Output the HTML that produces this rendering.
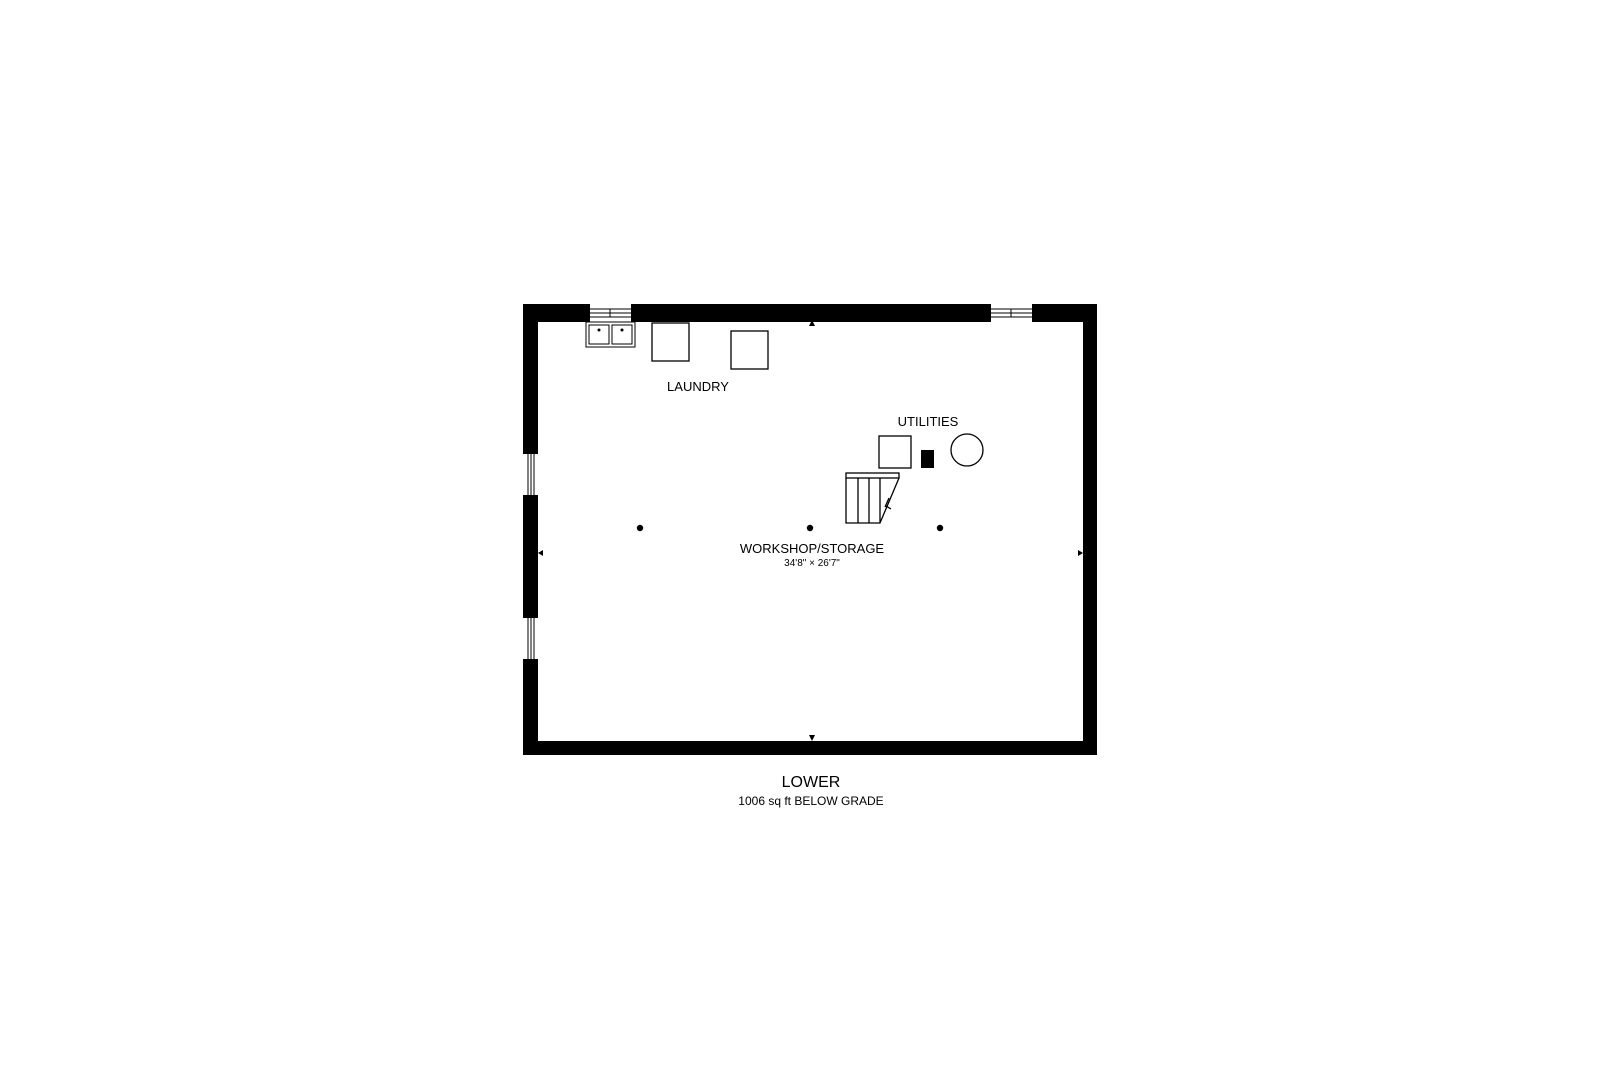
<!DOCTYPE html>
<html><head><style>body{margin:0;background:#fff}</style></head><body>
<svg width="1620" height="1080" xmlns="http://www.w3.org/2000/svg" font-family="Liberation Sans, sans-serif">
<rect width="1620" height="1080" fill="#fff"/>
<g transform="translate(-3,-2)">
<g fill="#000">
<rect x="526" y="306" width="67" height="18"/>
<rect x="634" y="306" width="360" height="18"/>
<rect x="1035" y="306" width="65" height="18"/>
<rect x="1086" y="306" width="14" height="451"/>
<rect x="526" y="743" width="574" height="14"/>
<rect x="526" y="306" width="15" height="150"/>
<rect x="526" y="497" width="15" height="123"/>
<rect x="526" y="661" width="15" height="96"/>
</g>
<g stroke="#000" stroke-width="1" fill="none">
<path d="M593 311H634M593 315H634M593 319H634M613 311V319"/>
<path d="M994 311H1035M994 315H1035M994 319H1035M1014 311V319"/>
<path d="M531 456V497M534 456V497M537 456V497"/>
<path d="M531 620V661M534 620V661M537 620V661"/>
<rect x="589" y="324" width="49" height="25"/>
<rect x="592" y="327" width="20" height="19"/>
<rect x="615" y="327" width="20" height="19"/>
<rect x="655" y="325" width="37" height="38" stroke-width="1.3"/>
<rect x="734" y="333" width="37" height="38" stroke-width="1.3"/>
<rect x="882" y="438" width="32" height="32" stroke-width="1.3"/>
<circle cx="970" cy="452" r="16" stroke-width="1.3"/>
<rect x="849" y="475" width="53" height="5" stroke-width="1.3"/>
<path d="M849 480V525H883L902 480M861 480V525M872 480V525M883 480V525M889 508L894 511M888 509L892 500" stroke-width="1.3"/>
</g>
<g fill="#000">
<circle cx="602" cy="332" r="1.5"/><circle cx="625" cy="332" r="1.5"/>
<rect x="924" y="452" width="13" height="18"/>
<circle cx="643" cy="530" r="3.2"/><circle cx="813" cy="530" r="3.2"/><circle cx="943" cy="530" r="3.2"/>
<path d="M815 322L812 328H818Z"/>
<path d="M815 743L812 737H818Z"/>
<path d="M541 555L546 552V558Z"/>
<path d="M1086 555L1081 552V558Z"/>
</g>
<g text-anchor="middle" fill="#000">
<text x="701" y="393" font-size="13">LAUNDRY</text>
<text x="931" y="428" font-size="13">UTILITIES</text>
<text x="815" y="555" font-size="13">WORKSHOP/STORAGE</text>
<text x="815" y="568" font-size="10">34'8" × 26'7"</text>
<text x="814" y="789" font-size="16">LOWER</text>
<text x="814" y="807" font-size="12">1006 sq ft BELOW GRADE</text>
</g>
</g>
</svg>
</body></html>
